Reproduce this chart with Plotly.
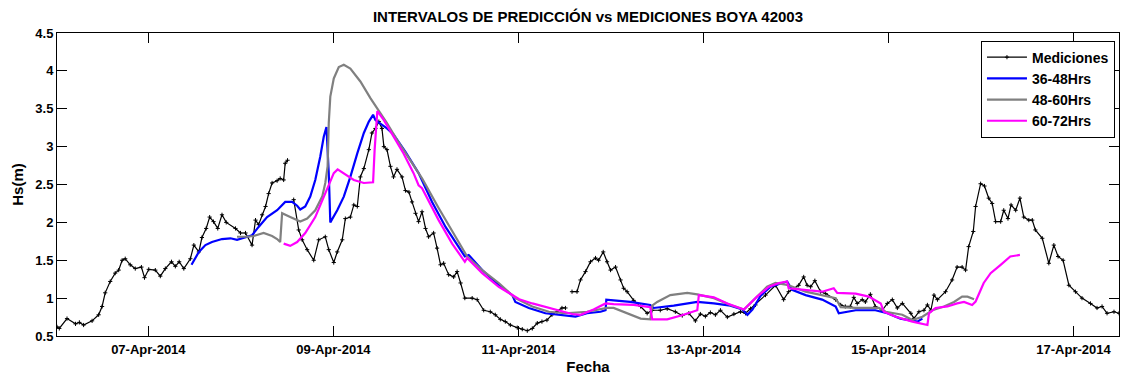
import pandas as pd
import plotly.graph_objects as go

# Time axis: hours after 2014-04-06 00:00
T0 = pd.Timestamp("2014-04-06 00:00")

# Buoy 42003 measurements (Hs in metres); None marks a gap in the record
horas_med = [
    0.3, 0.9, 2.9, 5.1, 6.1, 7.2, 9.4, 11.1, 12.0, 12.8, 14.1, 15.4, 16.3, 17.2, 18.0,
    19.3, 20.6, 22.2, 23.0, 24.1, 25.8, 27.1, 28.4, 30.0, 31.0, 32.0, 33.2, 34.9, 35.8,
    37.1, 37.9, 39.0, 39.9, 40.9, 42.0, 43.1, 44.2, 46.6, 47.9, 49.2, 50.9, 51.8, 52.6,
    53.5, 54.4, 55.2, 56.1, 57.4, 58.2, 59.1, 59.5, 60.1, 60.9,
    61.7, 63.0, 63.9, 65.2, 66.9, 68.2, 69.9, 70.8, 72.1, 73.0, 74.3, 75.1, 76.4, 77.3,
    78.2, 79.0, 79.9, 81.2, 82.0, 82.9, 83.8, 84.6, 85.1, 85.9, 86.8, 87.6, 88.5, 89.8,
    90.7, 91.6, 92.4, 93.3, 94.1, 95.0, 95.9, 96.7, 98.0, 98.9, 99.8, 100.6, 101.9, 103.2,
    104.1, 105.0, 106.1, 108.0, 109.3, 111.0, 112.7, 114.0, 115.3, 116.6, 117.9, 119.7,
    121.0, 122.3, 123.6, 124.9, 126.1, 127.4, 128.7, 130.0, 131.3, 132.2, 133.0,
    133.9, 135.2, 136.1, 137.4, 138.7, 140.0, 140.8, 142.0, 143.0, 143.9, 145.2, 146.5,
    147.3, 148.2, 149.9, 151.7, 153.4, 154.7, 156.8, 158.6, 160.7, 162.5, 164.2, 165.9,
    167.2, 168.5, 169.8, 171.1, 172.4, 174.2, 175.9, 177.6, 178.9, 180.2, 181.5, 184.1,
    186.7, 188.8, 190.1, 192.7, 194.0, 194.9, 195.8, 196.9, 198.4, 199.7, 202.3, 203.6,
    204.8, 206.1, 207.0, 207.9, 209.2, 210.0, 211.3, 212.6, 214.4, 215.7, 217.0, 218.3,
    219.6, 221.8, 222.6, 223.9, 225.2, 226.1, 227.0, 227.8, 228.7, 230.8, 232.5, 233.8,
    235.1, 236.0, 236.8, 238.0, 238.6, 239.9, 240.9, 242.0, 242.9, 243.8, 245.1, 245.9,
    247.0, 247.8, 249.0, 250.1, 251.1, 252.4, 253.3, 254.1, 255.9, 257.6, 258.9, 260.0,
    261.3, 262.8, 264.5, 266.2, 268.4, 270.1, 271.4, 272.7, 274.5, 275.8,
]
hs_med = [
    0.62, 0.60, 0.73, 0.66, 0.68, 0.645, 0.70, 0.78, 0.89, 1.07, 1.22, 1.33, 1.37, 1.50, 1.52,
    1.44, 1.39, 1.41, 1.27, 1.38, 1.37, 1.29, 1.39, 1.48, 1.42, 1.48, 1.39, 1.52, 1.70,
    1.61, 1.80, 1.92, 2.07, 2.01, 1.92, 2.10, 2.00, 1.92, 1.86, 1.86, 1.70, 2.03, 1.97,
    2.10, 2.21, 2.38, 2.52, 2.55, 2.58, 2.56, 2.78, 2.82, None,
    2.30, 1.90, 1.77, 1.64, 1.50, 1.77, 1.81, 1.64, 1.47, 1.61, 1.77, 2.05, 2.07, 2.23,
    2.21, 2.60, 2.71, 2.96, 3.18, 3.24, 3.33, 3.24, 3.00, 2.96, 2.74, 2.60, 2.70, 2.60,
    2.42, 2.40, 2.27, 2.12, 2.01, 2.14, 1.92, 1.81, 1.86, 1.66, 1.44, 1.46, 1.31, 1.28,
    1.35, 1.20, 1.00, 1.00, 0.98, 0.84, 0.82, 0.78, 0.72, 0.69, 0.645, 0.61,
    0.59, 0.57, 0.60, 0.67, 0.69, 0.71, 0.78, 0.82, 0.87, 0.87, None,
    1.085, 1.085, 1.24, 1.35, 1.48, 1.53, 1.50, 1.61, 1.48, 1.37, 1.41, 1.24,
    1.13, 1.085, 0.97, 0.89, 0.80, 0.84, 0.84, 0.86, 0.82, 0.77, 0.80, 0.70,
    0.79, 0.76, 0.81, 0.78, 0.84, 0.75, 0.79, 0.82, 0.80, 0.86, 0.91, 1.04,
    1.17, 0.98, 1.085, 1.17, 1.28, 1.17, 1.15, 1.23, 1.085, 1.06, 0.98, 0.91,
    0.89, 0.89, 1.01, 0.93, 0.98, 0.95, 1.05, 0.89, 0.84, 0.93, 0.98, 0.87,
    0.93, 0.80, 0.73, 0.82, 0.84, 0.91, 0.84, 1.04, 0.98, 1.085, 1.24, 1.41,
    1.41, 1.37, 1.68, 1.88, 2.21, 2.51, 2.48, 2.32, 2.25, 2.01, 2.01, 2.16,
    2.05, 2.23, 2.16, 2.32, 2.07, 2.03, 2.03, 1.90, 1.79, 1.46, 1.70, 1.55,
    1.50, 1.17, 1.085, 1.00, 0.93, 0.87, 0.89, 0.80, 0.82, 0.80,
]

# Forecast 36-48 h
horas_36_48 = [
    35.2, 37.1, 38.8, 40.5, 43.1, 45.3, 47.0, 49.2, 50.9, 52.6, 54.8, 57.4, 59.5, 61.3,
    62.6, 63.4, 64.7, 66.0, 67.3, 68.6, 69.5, 70.2, 70.8, 71.2, 73.0, 74.7, 76.4, 78.2,
    79.9, 81.2, 82.3, 82.9, 84.0, 85.9, 87.6, 90.7, 94.1, 97.6, 101.1, 104.5, 106.1,
    107.1, 110.6, 114.9, 118.4, 119.2, 122.7, 127.0, 131.3, 134.8, 137.8, 141.3, 142.6,
    142.8, 144.7, 149.0, 154.2, 155.1, 160.3, 166.4, 170.7, 175.0, 178.1, 179.4, 180.7,
    182.8, 185.4, 189.7, 191.0, 194.5, 198.8, 202.3, 203.1, 207.5, 212.6, 215.7, 219.1,
    223.5, 224.8,
]
hs_36_48 = [
    1.44, 1.61, 1.70, 1.74, 1.78, 1.79, 1.77, 1.80, 1.83, 1.94, 2.07, 2.16, 2.27, 2.27,
    2.22, 2.17, 2.21, 2.34, 2.56, 2.87, 3.13, 3.26, 2.65, 2.00, 2.16, 2.34, 2.60, 2.91,
    3.18, 3.33, 3.42, 3.35, 3.31, 3.24, 3.16, 2.93, 2.65, 2.27, 1.94, 1.68, 1.55,
    1.57, 1.37, 1.17, 1.04, 0.95, 0.87, 0.80, 0.78, 0.755, 0.80, 0.82, 0.84,
    0.98, 0.97, 0.95, 0.91, 0.87, 0.90, 0.95, 0.93, 0.90, 0.85, 0.78, 0.85,
    1.03, 1.15, 1.22, 1.11, 1.04, 0.98, 0.89, 0.80, 0.84, 0.84, 0.80, 0.73,
    0.69, 0.73,
]

# Forecast 48-60 h
horas_48_60 = [
    47.0, 49.6, 51.3, 53.9, 56.1, 57.4, 58.2, 58.7, 60.8, 63.4, 65.2, 67.3, 69.1, 69.9,
    70.5, 70.8, 71.2, 72.1, 73.4, 74.7, 76.4, 79.0, 81.6, 83.3, 85.9, 88.5, 92.0, 95.0,
    99.3, 103.7, 106.7, 110.6, 114.9, 119.2, 123.6, 127.9, 132.2, 137.8, 143.0, 144.7,
    148.2, 151.7, 154.2, 154.7, 156.0, 159.4, 163.8, 166.4, 170.7, 175.0, 178.5, 181.9,
    184.5, 186.7, 190.1, 194.5, 198.8, 202.3, 203.6, 207.5, 213.5, 215.3, 219.6, 222.2,
    224.8, 227.4, 230.4, 233.0, 235.1, 236.5, 238.2,
]
hs_48_60 = [
    1.81, 1.81, 1.82, 1.86, 1.82, 1.78, 1.74, 2.12, 2.07, 2.01, 2.05, 2.16, 2.34, 2.52,
    2.74, 3.31, 3.66, 3.90, 4.05, 4.08, 4.03, 3.86, 3.64, 3.51, 3.31, 3.09, 2.82, 2.58,
    2.19, 1.81, 1.55, 1.37, 1.20, 1.00, 0.89, 0.82, 0.80, 0.82, 0.87, 0.87,
    0.80, 0.73, 0.72, 0.90, 0.95, 1.04, 1.07, 1.05, 1.00, 0.91, 0.85, 1.02,
    1.15, 1.20, 1.17, 1.085, 1.04, 1.00, 0.88, 0.87, 0.87, 0.82, 0.78, 0.71,
    0.755, 0.84, 0.89, 0.95, 1.02, 1.02, 0.985,
]

# Forecast 60-72 h
horas_60_72 = [
    59.1, 60.8, 62.6, 64.7, 67.3, 69.9, 72.1, 73.1, 74.7, 77.3, 79.9, 82.3, 82.7, 83.4,
    85.1, 87.6, 90.2, 92.8, 94.1, 95.0, 99.3, 102.8, 106.1, 106.7, 110.6, 114.9, 118.4,
    120.2, 123.6, 127.9, 131.3, 133.9, 136.1, 139.5, 142.6, 144.7, 149.9, 154.2, 154.7,
    158.6, 162.2, 166.4, 166.8, 170.7, 174.2, 178.5, 181.9, 185.0, 187.6, 189.7, 190.1,
    194.5, 198.8, 201.8, 202.7, 207.5, 210.9, 214.0, 214.8, 217.9, 222.2, 226.1, 226.5,
    228.2, 231.3, 233.8, 235.6, 237.7, 238.6, 240.7, 242.5, 245.1, 247.6, 250.1,
]
hs_60_72 = [
    1.72, 1.69, 1.74, 1.86, 2.07, 2.38, 2.65, 2.70, 2.65, 2.56, 2.52, 2.53, 2.96, 3.47,
    3.35, 3.13, 2.91, 2.65, 2.49, 2.45, 2.03, 1.72, 1.48, 1.53, 1.33, 1.15, 1.04,
    0.985, 0.93, 0.87, 0.82, 0.79, 0.78, 0.85, 0.93, 0.92, 0.91, 0.88, 0.72,
    0.72, 0.77, 0.84, 1.04, 1.01, 0.93, 0.85, 1.02, 1.15, 1.20, 1.22, 1.13,
    1.11, 1.085, 1.13, 1.07, 1.06, 1.02, 0.93, 0.82, 0.755, 0.69, 0.645, 0.80,
    0.87, 0.89, 0.93, 0.95, 0.91, 0.955, 1.20, 1.33, 1.44, 1.55, 1.57,
]

# Axis ticks
fechas_ticks = ["2014-04-07", "2014-04-09", "2014-04-11", "2014-04-13", "2014-04-15", "2014-04-17"]
etiquetas_x = ["07-Apr-2014", "09-Apr-2014", "11-Apr-2014", "13-Apr-2014", "15-Apr-2014", "17-Apr-2014"]
valores_y = [0.5, 1, 1.5, 2, 2.5, 3, 3.5, 4, 4.5]
etiquetas_y = ["0.5", "1", "1.5", "2", "2.5", "3", "3.5", "4", "4.5"]


def to_time(hours):
    return [T0 + pd.Timedelta(hours=h) for h in hours]


FONT = "Arial, Liberation Sans, sans-serif"

fig = go.Figure()
fig.add_trace(go.Scatter(
    x=to_time(horas_med), y=hs_med, name="Mediciones", mode="lines+markers",
    line=dict(color="black", width=1.2),
    marker=dict(color="black", size=3, symbol="cross-thin", line=dict(color="black", width=1)),
    connectgaps=False,
))
fig.add_trace(go.Scatter(
    x=to_time(horas_36_48), y=hs_36_48, name="36-48Hrs", mode="lines",
    line=dict(color="#0000FF", width=2.2),
))
fig.add_trace(go.Scatter(
    x=to_time(horas_48_60), y=hs_48_60, name="48-60Hrs", mode="lines",
    line=dict(color="#808080", width=2.2),
))
fig.add_trace(go.Scatter(
    x=to_time(horas_60_72), y=hs_60_72, name="60-72Hrs", mode="lines",
    line=dict(color="#FF00FF", width=2.2),
))

x_range = [T0 + pd.Timedelta(hours=min(horas_med)), T0 + pd.Timedelta(hours=max(horas_med))]

fig.update_layout(
    width=1133, height=378,
    margin=dict(l=57, r=14, t=33, b=42),
    paper_bgcolor="white", plot_bgcolor="white",
    font=dict(family=FONT, color="black"),
    title=dict(text="INTERVALOS DE PREDICCIÓN vs MEDICIONES BOYA 42003",
               font=dict(size=15, weight="bold", family=FONT),
               x=(57 + 1119) / 2 / 1133, xanchor="center", y=1 - 17 / 378, yanchor="middle"),
    showlegend=True,
    legend=dict(x=0.9962, y=0.975, xanchor="right", yanchor="top",
                bgcolor="white", bordercolor="black", borderwidth=1,
                font=dict(size=14, weight="bold", family=FONT),
                tracegroupgap=0, itemwidth=40),
)
fig.update_xaxes(
    range=x_range, type="date", automargin=False,
    tickvals=[pd.Timestamp(d) for d in fechas_ticks], ticktext=etiquetas_x,
    ticks="inside", ticklen=10, tickcolor="black", tickwidth=1,
    showline=True, linecolor="black", linewidth=1, mirror="ticks",
    showgrid=False, zeroline=False, ticklabelstandoff=1,
    tickfont=dict(size=13, weight="bold", family=FONT),
    title=dict(text="Fecha", font=dict(size=15, weight="bold", family=FONT), standoff=5),
)
fig.update_yaxes(
    range=[0.5, 4.5], tickvals=valores_y, ticktext=etiquetas_y, automargin=False,
    ticks="inside", ticklen=10, tickcolor="black", tickwidth=1,
    showline=True, linecolor="black", linewidth=1, mirror="ticks",
    showgrid=False, zeroline=False,
    tickfont=dict(size=13, weight="bold", family=FONT),
    title=dict(text="Hs(m)", font=dict(size=15, weight="bold", family=FONT), standoff=8),
)

fig.write_html("out.html")
